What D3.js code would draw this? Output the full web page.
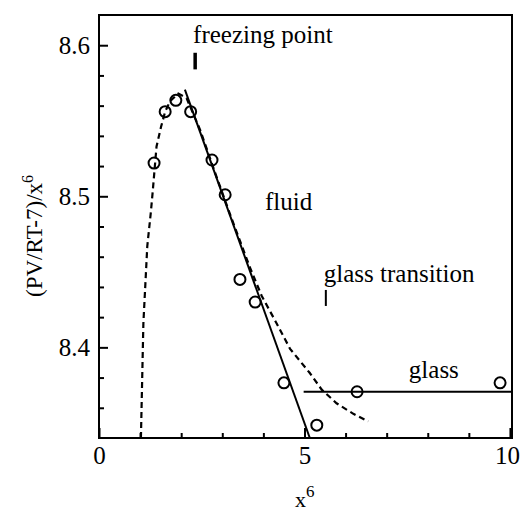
<!DOCTYPE html>
<html>
<head>
<meta charset="utf-8">
<script src="https://cdn.jsdelivr.net/npm/d3@7"></script>
<style>
  body { margin: 0; background: #fff; }
  svg text { font-family: "Liberation Serif", "Times New Roman", serif; fill: #000; }
</style>
</head>
<body>
<svg id="chart" width="520" height="514"></svg>
<script>
// measured points (open circles)
const pointsX = [1.34, 1.61, 1.87, 2.23, 2.75, 3.07, 3.43, 3.80, 4.50, 5.30, 6.28, 9.76];
const pointsY = [8.522, 8.556, 8.5635, 8.556, 8.524, 8.501, 8.445, 8.430, 8.3765, 8.3485, 8.3706, 8.3765];

// dashed curve
const dashX = [1.02, 1.08, 1.175, 1.26, 1.31, 1.40, 1.51, 1.61, 1.73, 1.93, 2.13, 2.46, 2.82, 3.19, 3.67, 3.96, 4.32, 4.65, 5.13, 5.42, 5.78, 6.19, 6.55];
const dashY = [8.340, 8.416, 8.467, 8.489, 8.504, 8.533, 8.546, 8.556, 8.563, 8.568, 8.565, 8.544, 8.516, 8.488, 8.453, 8.434, 8.416, 8.399, 8.383, 8.372, 8.363, 8.356, 8.351];

// fitted straight lines
const fluidLineX = [2.09, 5.13];
const fluidLineY = [8.5706, 8.34];
const glassLineX = [4.98, 10.05];
const glassLineY = [8.3706, 8.3706];

// axis ticks
const xMajorTicks = [0, 5, 10];
const xMinorTicks = [1, 2, 3, 4, 6, 7, 8, 9];
const yMajorTicks = [8.4, 8.5, 8.6];
const yMinorTicks = [8.36, 8.38, 8.42, 8.44, 8.46, 8.48, 8.52, 8.54, 8.56, 8.58];

// annotations
const labels = [
  { text: "freezing point", x: 2.29, y: 8.6016 },
  { text: "fluid", x: 4.04, y: 8.491 },
  { text: "glass transition", x: 5.47, y: 8.4435 },
  { text: "glass", x: 7.54, y: 8.3796 }
];
const markers = [
  { x: 2.34, y0: 8.595, y1: 8.584, w: 3.5 },
  { x: 5.52, y0: 8.438, y1: 8.4274, w: 2 }
];

const width = 520, height = 514;
const margin = { top: 15, right: 8, bottom: 76, left: 99 };
const serif = "'Liberation Serif', 'Times New Roman', serif";

const svg = d3.select("#chart");

const x = d3.scaleLinear()
  .domain([0, 10.05])
  .range([margin.left, width - margin.right]);

const y = d3.scaleLinear()
  .domain([8.34, 8.62])
  .range([height - margin.bottom, margin.top]);

// frame
svg.append("rect")
  .attr("x", x(0))
  .attr("y", y(8.62))
  .attr("width", x(10.05) - x(0))
  .attr("height", y(8.34) - y(8.62))
  .attr("fill", "none")
  .attr("stroke", "#000")
  .attr("stroke-width", 2);

// x axis, ticks pointing inward
const xAxis = svg.append("g").attr("transform", `translate(0,${y(8.34)})`);
xAxis.call(d3.axisBottom(x).tickValues(xMinorTicks).tickSize(-5).tickFormat(""))
  .call(g => g.select(".domain").remove());
xAxis.append("g")
  .call(d3.axisBottom(x).tickValues(xMajorTicks).tickSize(-10).tickFormat(d3.format("d")))
  .attr("font-family", serif)
  .attr("font-size", 25)
  .call(g => g.select(".domain").remove())
  .call(g => g.selectAll("text")
    .attr("y", 26)
    .attr("dy", 0)
    .attr("x", d => d === 10 ? -3 : 0));
xAxis.selectAll(".tick line").attr("stroke-width", 2);

// y axis
const yAxis = svg.append("g").attr("transform", `translate(${x(0)},0)`);
yAxis.call(d3.axisLeft(y).tickValues(yMinorTicks).tickSize(-5).tickFormat(""))
  .call(g => g.select(".domain").remove());
yAxis.append("g")
  .call(d3.axisLeft(y).tickValues(yMajorTicks).tickSize(-9).tickFormat(d3.format(".1f")))
  .attr("font-family", serif)
  .attr("font-size", 25)
  .call(g => g.select(".domain").remove())
  .call(g => g.selectAll("text")
    .attr("x", -9)
    .attr("dy", "0.33em"));
yAxis.selectAll(".tick line").attr("stroke-width", 2);

// axis titles
const xTitle = svg.append("text")
  .attr("x", 295)
  .attr("y", 507)
  .style("font-size", "22px");
xTitle.append("tspan").text("x");
xTitle.append("tspan").attr("dy", -10).style("font-size", "17px").text("6");

const yTitle = svg.append("text")
  .attr("transform", "translate(42,297) rotate(-90)")
  .style("font-size", "23px");
yTitle.append("tspan").text("(PV/RT-7)/x");
yTitle.append("tspan").attr("dy", -9).style("font-size", "16px").text("6");

// lines
const line = d3.line()
  .x(d => x(d[0]))
  .y(d => y(d[1]));

svg.append("path")
  .attr("d", line(d3.zip(dashX, dashY)))
  .attr("fill", "none")
  .attr("stroke", "#000")
  .attr("stroke-width", 2.2)
  .attr("stroke-dasharray", "6,4");

svg.append("path")
  .attr("d", line(d3.zip(fluidLineX, fluidLineY)))
  .attr("fill", "none")
  .attr("stroke", "#000")
  .attr("stroke-width", 2);

svg.append("path")
  .attr("d", line(d3.zip(glassLineX, glassLineY)))
  .attr("fill", "none")
  .attr("stroke", "#000")
  .attr("stroke-width", 2);

// points
svg.append("g")
  .selectAll("circle")
  .data(d3.zip(pointsX, pointsY))
  .join("circle")
  .attr("cx", d => x(d[0]))
  .attr("cy", d => y(d[1]))
  .attr("r", 5.5)
  .attr("fill", "none")
  .attr("stroke", "#000")
  .attr("stroke-width", 2);

// annotations
svg.append("g")
  .selectAll("text")
  .data(labels)
  .join("text")
  .attr("x", d => x(d.x))
  .attr("y", d => y(d.y))
  .style("font-size", "25px")
  .text(d => d.text);

svg.append("g")
  .selectAll("line")
  .data(markers)
  .join("line")
  .attr("x1", d => x(d.x))
  .attr("x2", d => x(d.x))
  .attr("y1", d => y(d.y0))
  .attr("y2", d => y(d.y1))
  .attr("stroke", "#000")
  .attr("stroke-width", d => d.w);
</script>
</body>
</html>
